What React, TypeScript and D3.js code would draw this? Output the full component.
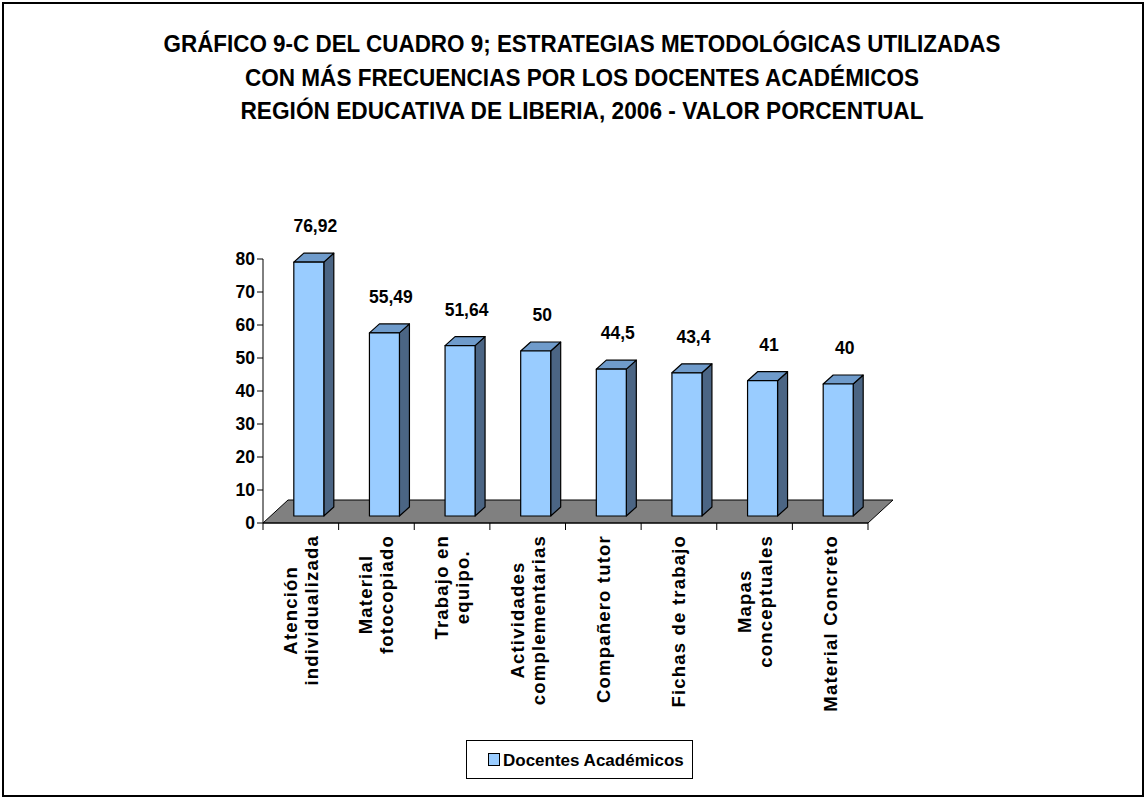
import * as d3 from "d3";
import { useEffect, useRef } from "react";

const titleLines = [
  "GRÁFICO 9-C DEL CUADRO 9; ESTRATEGIAS METODOLÓGICAS UTILIZADAS",
  "CON MÁS FRECUENCIAS POR LOS DOCENTES ACADÉMICOS",
  "REGIÓN EDUCATIVA DE LIBERIA, 2006 - VALOR PORCENTUAL",
];
const titleWidths = [837, 674, 683];

const categories = [
  "Atención individualizada",
  "Material fotocopiado",
  "Trabajo en equipo.",
  "Actividades complementarias",
  "Compañero tutor",
  "Fichas de trabajo",
  "Mapas conceptuales",
  "Material Concreto",
];
// how the category labels wrap
const categoryLines = [
  ["Atención", "individualizada"],
  ["Material", "fotocopiado"],
  ["Trabajo en", "equipo."],
  ["Actividades", "complementarias"],
  ["Compañero tutor"],
  ["Fichas de trabajo"],
  ["Mapas", "conceptuales"],
  ["Material Concreto"],
];
const values = [76.92, 55.49, 51.64, 50, 44.5, 43.4, 41, 40];
const valueLabels = ["76,92", "55,49", "51,64", "50", "44,5", "43,4", "41", "40"];
const yTicks = [0, 10, 20, 30, 40, 50, 60, 70, 80];
const seriesName = "Docentes Académicos";

const W = 1145;
const H = 798;
const FONT = "'Liberation Sans', Arial, Helvetica, sans-serif";

const plot = { left: 263, right: 868, top: 259, bottom: 523 };
const floorDepth = { dx: 25, dy: -23 };
const barOffset = { dx: 8, dy: -7 };
const barDepth = { dx: 10, dy: -9 };
const barWidth = 30;

const colors = {
  front: "#99CCFF",
  top: "#6F9BCB",
  side: "#4B6584",
  floor: "#808080",
};

export default function App() {
  const ref = useRef<SVGSVGElement>(null);

  useEffect(() => {
    const svg = d3.select(ref.current);
    svg.selectAll("*").remove();

    const x = d3
      .scaleBand<string>()
      .domain(categories)
      .range([plot.left, plot.right]);
    const y = d3.scaleLinear().domain([0, 80]).range([plot.bottom, plot.top]);

    svg
      .append("rect")
      .attr("x", 3)
      .attr("y", 3)
      .attr("width", 1140)
      .attr("height", 793)
      .attr("fill", "#fff")
      .attr("stroke", "#000")
      .attr("stroke-width", 2);

    // title
    const title = svg
      .append("g")
      .attr("font-family", FONT)
      .attr("font-weight", "bold")
      .attr("font-size", 23.5)
      .attr("text-anchor", "middle");
    titleLines.forEach((t, i) => {
      title
        .append("text")
        .attr("x", 582)
        .attr("y", 52 + i * 33.5)
        .attr("textLength", titleWidths[i])
        .attr("lengthAdjust", "spacingAndGlyphs")
        .text(t);
    });

    // floor
    const fl = plot.left;
    const fr = plot.right;
    const fb = plot.bottom;
    svg
      .append("path")
      .attr(
        "d",
        `M${fl},${fb}L${fr},${fb}L${fr + floorDepth.dx},${fb + floorDepth.dy}L${fl + floorDepth.dx},${fb + floorDepth.dy}Z`
      )
      .attr("fill", colors.floor)
      .attr("stroke", "#000")
      .attr("stroke-width", 1);

    // y axis
    const yAxis = svg.append("g");
    yAxis
      .append("line")
      .attr("x1", plot.left)
      .attr("x2", plot.left)
      .attr("y1", y(80))
      .attr("y2", y(0))
      .attr("stroke", "#000");
    yTicks.forEach((t) => {
      yAxis
        .append("line")
        .attr("x1", plot.left - 6)
        .attr("x2", plot.left)
        .attr("y1", y(t))
        .attr("y2", y(t))
        .attr("stroke", "#000");
      yAxis
        .append("text")
        .attr("x", plot.left - 8)
        .attr("y", y(t) + 6.3)
        .attr("text-anchor", "end")
        .attr("font-family", FONT)
        .attr("font-weight", "bold")
        .attr("font-size", 17.5)
        .text(t);
    });

    // x axis line and ticks
    svg
      .append("line")
      .attr("x1", plot.left)
      .attr("x2", plot.right)
      .attr("y1", plot.bottom)
      .attr("y2", plot.bottom)
      .attr("stroke", "#000");
    const bounds = categories.map((c) => x(c)!).concat([plot.right]);
    bounds.forEach((bx) => {
      svg
        .append("line")
        .attr("x1", bx)
        .attr("x2", bx)
        .attr("y1", plot.bottom)
        .attr("y2", plot.bottom + 7)
        .attr("stroke", "#000");
    });

    // bars
    const bars = svg.append("g").attr("stroke", "#000").attr("stroke-width", 1.2).attr("stroke-linejoin", "round");
    categories.forEach((c, i) => {
      const x0 = x(c)! + (x.bandwidth() - barWidth) / 2 + barOffset.dx;
      const x1 = x0 + barWidth;
      const yb = y(0) + barOffset.dy;
      const yt = y(values[i]) + barOffset.dy;
      const dx = barDepth.dx;
      const dy = barDepth.dy;
      bars
        .append("path")
        .attr("d", `M${x1},${yb}L${x1 + dx},${yb + dy}L${x1 + dx},${yt + dy}L${x1},${yt}Z`)
        .attr("fill", colors.side);
      bars
        .append("path")
        .attr("d", `M${x0},${yt}L${x0 + dx},${yt + dy}L${x1 + dx},${yt + dy}L${x1},${yt}Z`)
        .attr("fill", colors.top);
      bars
        .append("rect")
        .attr("x", x0)
        .attr("y", yt)
        .attr("width", barWidth)
        .attr("height", yb - yt)
        .attr("fill", colors.front);

      svg
        .append("text")
        .attr("x", x0 + barWidth / 2 + 6.5)
        .attr("y", yt + dy - 21)
        .attr("text-anchor", "middle")
        .attr("font-family", FONT)
        .attr("font-weight", "bold")
        .attr("font-size", 17.5)
        .text(valueLabels[i]);
    });

    // category labels, rotated, aligned to the top
    const lineH = 21;
    const cap = 13;
    categories.forEach((c, i) => {
      const lines = categoryLines[i];
      const center = x(c)! + x.bandwidth() / 2;
      const g = svg
        .append("g")
        .attr("font-family", FONT)
        .attr("font-weight", "bold")
        .attr("font-size", 18.5)
        .attr("letter-spacing", 1.2)
        .attr("text-anchor", "middle");
      const texts = lines.map((l, j) => {
        const bx = center + (j - (lines.length - 1) / 2) * lineH + cap / 2;
        return g.append("text").attr("x", 0).attr("y", 0).attr("data-bx", bx).text(l);
      });
      const maxLen = d3.max(texts, (t) => (t.node() as SVGTextElement).getComputedTextLength()) || 0;
      const yc = 535 + maxLen / 2;
      texts.forEach((t) => {
        t.attr("transform", `translate(${t.attr("data-bx")},${yc}) rotate(-90)`);
      });
    });

    // legend
    const lg = svg.append("g");
    lg.append("rect")
      .attr("x", 466.5)
      .attr("y", 740.5)
      .attr("width", 226)
      .attr("height", 38)
      .attr("fill", "#fff")
      .attr("stroke", "#000");
    lg.append("rect")
      .attr("x", 488.5)
      .attr("y", 753.5)
      .attr("width", 11)
      .attr("height", 12)
      .attr("fill", colors.front)
      .attr("stroke", "#000");
    lg.append("text")
      .attr("x", 503)
      .attr("y", 766)
      .attr("font-family", FONT)
      .attr("font-weight", "bold")
      .attr("font-size", 17)
      .text(seriesName);
  }, []);

  return (
    <svg
      ref={ref}
      width={W}
      height={H}
      style={{ position: "absolute", left: 0, top: 0, background: "#fff" }}
    />
  );
}
